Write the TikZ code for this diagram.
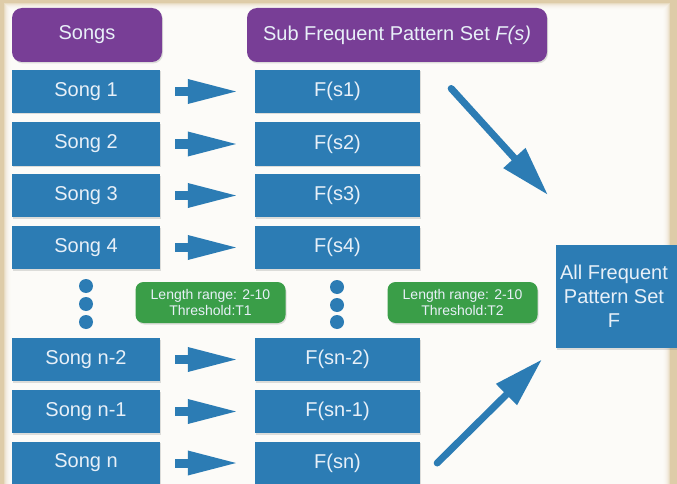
\documentclass[tikz,border=0pt]{standalone}
\usepackage{fontspec}
\setmainfont{Liberation Sans}
\usetikzlibrary{arrows.meta,calc,shadows}
\definecolor{parch}{RGB}{222,204,168}
\definecolor{boxblue}{RGB}{44,124,180}
\definecolor{hdrpurple}{RGB}{120,62,150}
\definecolor{boxgreen}{RGB}{58,158,72}
\definecolor{txtlight}{RGB}{232,240,248}
\tikzset{
  shade/.style={drop shadow={opacity=0.25,shadow xshift=1pt,shadow yshift=-1.5pt}},
  hdr/.style={fill=hdrpurple,rounded corners=10pt,minimum height=54pt,inner sep=0pt,
    text=txtlight,font=\fontsize{20}{23}\selectfont,shade},
  songbox/.style={fill=boxblue,minimum width=148pt,minimum height=43pt,inner sep=0pt,
    text=txtlight,font=\fontsize{20}{23}\selectfont,shade},
  fbox/.style={fill=boxblue,minimum width=165pt,minimum height=43pt,inner sep=0pt,
    text=txtlight,font=\fontsize{20}{23}\selectfont,shade},
  greenbox/.style={fill=boxgreen,rounded corners=8pt,minimum width=150pt,minimum height=41pt,
    inner sep=0pt,text=txtlight,align=center,font=\fontsize{14}{15.5}\selectfont,shade},
  dot/.style={circle,fill=boxblue,minimum size=14pt,inner sep=0pt},
  blockarrow/.style={draw=boxblue,line width=9pt,-{Triangle[length=52pt,width=22pt]}},
  diagarrow/.style={draw=boxblue,line width=7pt,line cap=round,-{Triangle[length=50pt,width=28pt]}}
}
\begin{document}
\begin{tikzpicture}[x=1pt,y=-1pt]
\useasboundingbox (0,0) rectangle (677,484);
\fill[parch] (0,0) rectangle (677,484);
\foreach \i in {0,...,7}{
  \fill[white,opacity=0.3] (4+\i,3+\i) rectangle (670-\i,490);
}
% headers
\node[hdr,minimum width=150pt] (hsongs) at (87,35) {Songs};
\node[hdr,minimum width=300pt] (hsub) at (397,35) {Sub Frequent Pattern Set \textit{F(s)}};
% song boxes
\node[songbox] (s1) at (86,91.5) {Song 1};
\node[songbox] (s2) at (86,144) {Song 2};
\node[songbox] (s3) at (86,195.5) {Song 3};
\node[songbox] (s4) at (86,247.5) {Song 4};
\node[songbox] (sn2) at (86,359.5) {Song n-2};
\node[songbox] (sn1) at (86,411.5) {Song n-1};
\node[songbox] (sn) at (86,463) {Song n};
% F boxes
\node[fbox] (f1) at (337.5,91.5) {F(s1)};
\node[fbox] (f2) at (337.5,144) {F(s2)};
\node[fbox] (f3) at (337.5,195.5) {F(s3)};
\node[fbox] (f4) at (337.5,247.5) {F(s4)};
\node[fbox] (fn2) at (337.5,359.5) {F(sn-2)};
\node[fbox] (fn1) at (337.5,411.5) {F(sn-1)};
\node[fbox] (fn) at (337.5,463) {F(sn)};
% dots
\node[dot] (d1) at (86,286) {};
\node[dot] (d2) at (86,304) {};
\node[dot] (d3) at (86,322) {};
\node[dot] (e1) at (337,287) {};
\node[dot] (e2) at (337,305) {};
\node[dot] (e3) at (337,322) {};
% green boxes
\node[greenbox] (g1) at (210.5,302.5) {Length range: 2-10\\Threshold:T1};
\node[greenbox] (g2) at (462.5,302.5) {Length range: 2-10\\Threshold:T2};
% all frequent
\node[fill=boxblue,minimum width=128pt,minimum height=103pt,inner sep=0pt,anchor=north west,
  shade] (all) at (556,245) {};
\node[text=txtlight,align=center,font=\fontsize{20}{24}\selectfont] (alltxt) at (614,296)
  {All Frequent\\Pattern Set\\F};
% block arrows
\foreach \a/\b in {s1/f1,s2/f2,s3/f3,s4/f4,sn2/fn2,sn1/fn1,sn/fn}{
  \draw[blockarrow] ($(\a.east)+(15,0)$) -- ($(\b.west)+(-15,0)$);
}
% diagonal arrows
\coordinate (t1) at ($(f1.east)+(31,-3)$);
\coordinate (h1) at ($(all.north west)+(-8,-50)$);
\coordinate (t2) at ($(fn.east)+(17,0)$);
\coordinate (h2) at ($(all.south west)+(-14,11)$);
\draw[diagarrow] (t1) -- (h1);
\draw[diagarrow] (t2) -- (h2);
\end{tikzpicture}
\end{document}
